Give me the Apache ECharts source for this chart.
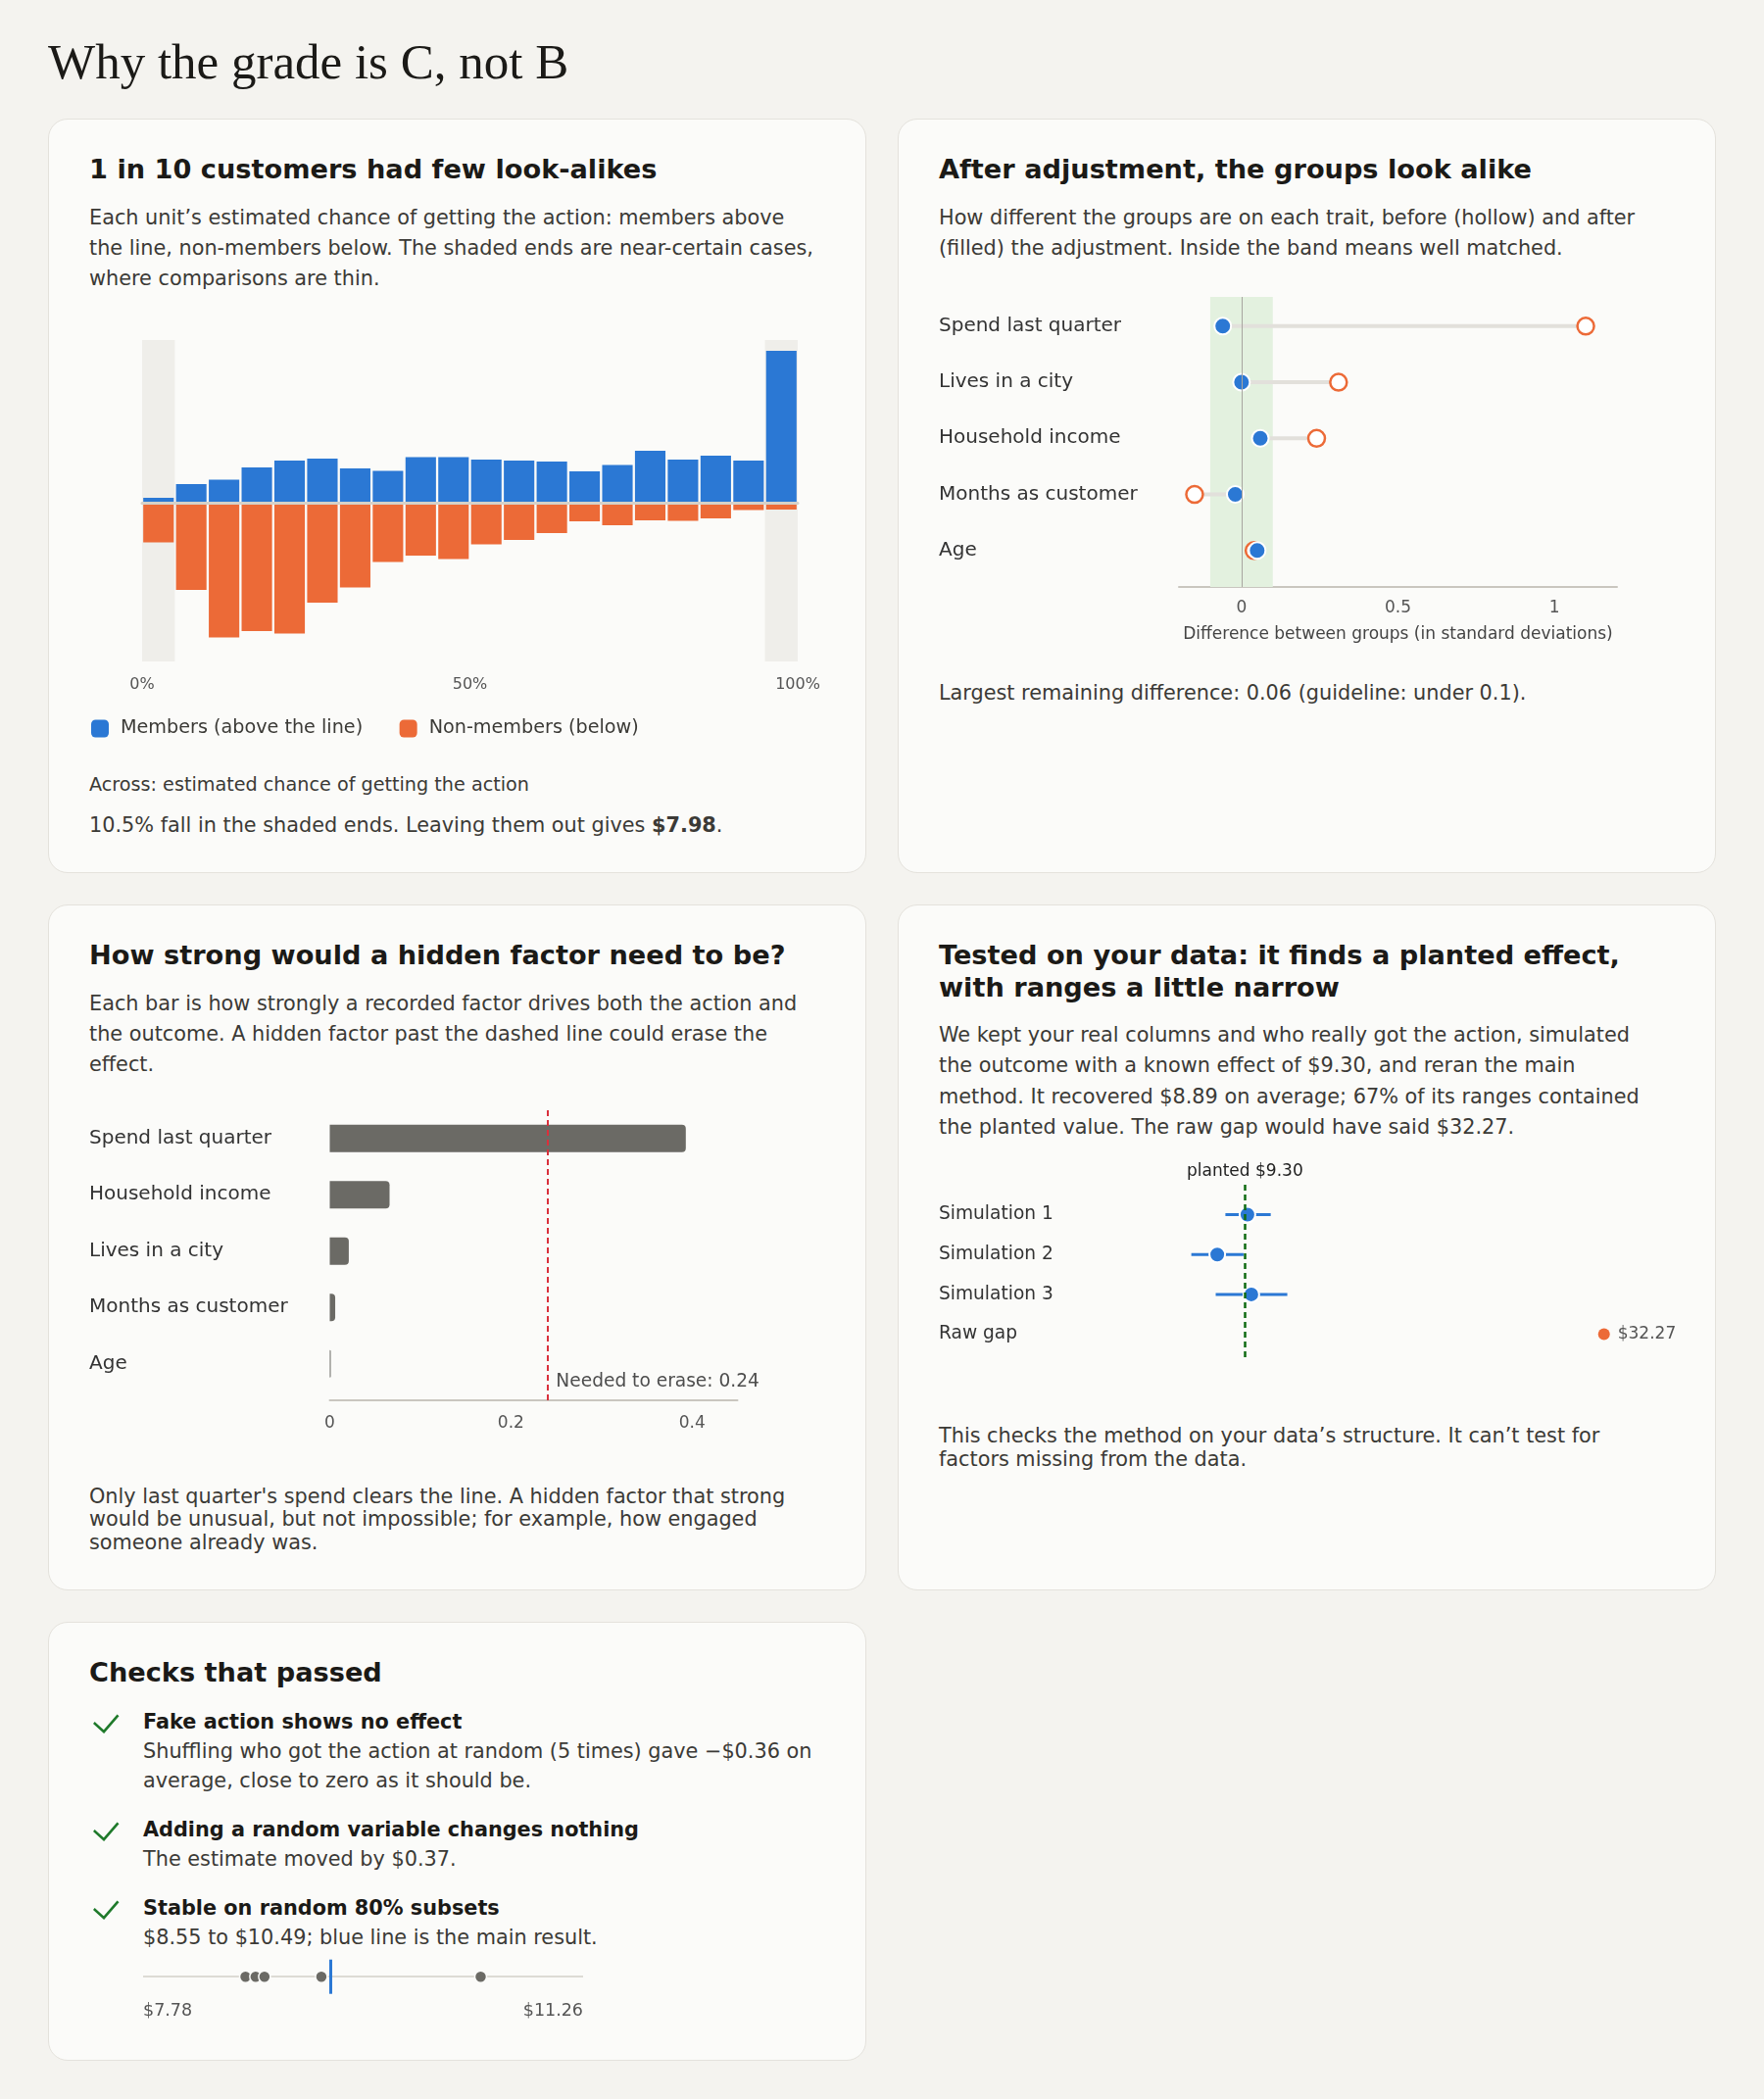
<!DOCTYPE html>
<html>
<head>
<meta charset="utf-8">
<script src="https://cdn.jsdelivr.net/npm/echarts@6/dist/echarts.min.js"></script>
<style>
html, body { margin: 0; padding: 0; background: #f4f3ef; }
body { width: 1800px; height: 2142px; position: relative; overflow: hidden; font-family: "DejaVu Sans", sans-serif; color: #3b3a36; }
h1 { position: absolute; left: 49px; top: 38px; margin: 0; font: normal 51px/51px "Liberation Serif", serif; color: #1b1a17; }
.grid { position: absolute; left: 49px; top: 121px; display: grid; grid-template-columns: 835px 835px; grid-template-rows: 770px 700px 448px; gap: 32px; }
.card { box-sizing: border-box; background: #fbfbf9; border: 1px solid #e4e2dc; border-radius: 20px; padding: 35.4px 40px 0 41px; overflow: hidden; }
.card h2 { margin: 0 0 16.6px; font: bold 27.2px/32.6px "DejaVu Sans", sans-serif; color: #1b1a17; }
.lead { margin: 0; font-size: 20.8px; line-height: 31.2px; }
.small { margin: 0; font-size: 19.2px; line-height: 28.8px; }
.foot { margin: 0; font-size: 20.8px; line-height: 23.5px; }
.chart { width: 752px; }
.check { position: relative; padding-left: 55px; margin-top: 20px; font-size: 20.8px; line-height: 30px; }
.check:first-of-type { margin-top: 18.5px; }
.check .tick { position: absolute; left: 4px; top: 7px; }
.check .ct { font-weight: bold; color: #1b1a17; }
</style>
</head>
<body>
<h1>Why the grade is C, not B</h1>
<div class="grid">
  <div class="card">
    <h2>1 in 10 customers had few look-alikes</h2>
    <p class="lead">Each unit’s estimated chance of getting the action: members above<br>the line, non-members below. The shaded ends are near-certain cases,<br>where comparisons are thin.</p>
    <div id="c1" class="chart" style="margin-top:14.8px;height:456px"></div>
    <p class="small" style="margin-top:16px">Across: estimated chance of getting the action</p>
    <p class="lead" style="margin-top:11.4px">10.5% fall in the shaded ends. Leaving them out gives <b>$7.98</b>.</p>
  </div>
  <div class="card">
    <h2>After adjustment, the groups look alike</h2>
    <p class="lead">How different the groups are on each trait, before (hollow) and after<br>(filled) the adjustment. Inside the band means well matched.</p>
    <div id="c2" class="chart" style="margin-top:12.4px;height:390px"></div>
    <p class="lead" style="margin-top:20.7px">Largest remaining difference: 0.06 (guideline: under 0.1).</p>
  </div>
  <div class="card">
    <h2>How strong would a hidden factor need to be?</h2>
    <p class="lead">Each bar is how strongly a recorded factor drives both the action and<br>the outcome. A hidden factor past the dashed line could erase the<br>effect.</p>
    <div id="c3" class="chart" style="margin-top:12.6px;height:361px"></div>
    <p class="foot" style="margin-top:39.9px">Only last quarter's spend clears the line. A hidden factor that strong<br>would be unusual, but not impossible; for example, how engaged<br>someone already was.</p>
  </div>
  <div class="card">
    <h2>Tested on your data: it finds a planted effect,<br>with ranges a little narrow</h2>
    <p class="lead">We kept your real columns and who really got the action, simulated<br>the outcome with a known effect of $9.30, and reran the main<br>method. It recovered $8.89 on average; 67% of its ranges contained<br>the planted value. The raw gap would have said $32.27.</p>
    <div id="c4" class="chart" style="margin-top:13px;height:220px"></div>
    <p class="foot" style="margin-top:55.5px">This checks the method on your data’s structure. It can’t test for<br>factors missing from the data.</p>
  </div>
  <div class="card">
    <h2>Checks that passed</h2>
    <div class="check">
      <svg class="tick" width="27" height="20" viewBox="0 0 27 20"><polyline points="0.8,9 11,18.2 25.5,1.3" fill="none" stroke="#1f7a2b" stroke-width="2.6"/></svg>
      <div class="ct">Fake action shows no effect</div>
      <div>Shuffling who got the action at random (5 times) gave −$0.36 on<br>average, close to zero as it should be.</div>
    </div>
    <div class="check">
      <svg class="tick" width="27" height="20" viewBox="0 0 27 20"><polyline points="0.8,9 11,18.2 25.5,1.3" fill="none" stroke="#1f7a2b" stroke-width="2.6"/></svg>
      <div class="ct">Adding a random variable changes nothing</div>
      <div>The estimate moved by $0.37.</div>
    </div>
    <div class="check">
      <svg class="tick" width="27" height="20" viewBox="0 0 27 20"><polyline points="0.8,9 11,18.2 25.5,1.3" fill="none" stroke="#1f7a2b" stroke-width="2.6"/></svg>
      <div class="ct">Stable on random 80% subsets</div>
      <div>$8.55 to $10.49; blue line is the main result.</div>
    </div>
    <div id="c5" style="margin-left:55px;width:470px;height:80px"></div>
  </div>
  <div></div>
</div>

<script>
const FONT = 'DejaVu Sans'
const BLUE = '#2b78d4'
const ORANGE = '#ec6a37'

// 1. overlap histogram (20 bins of estimated chance)
const binStart = [0, 5, 10, 15, 20, 25, 30, 35, 40, 45, 50, 55, 60, 65, 70, 75, 80, 85, 90, 95]
const members = [11, 39, 48, 73, 87, 91, 71, 66, 94, 94, 89, 87, 85, 65, 78, 107, 89, 97, 87, 311]
const nonMembers = [80, 177, 274, 261, 266, 203, 172, 120, 107, 114, 84, 75, 61, 37, 45, 35, 36, 31, 14, 13]
const shadedEnds = [[0, 5], [95, 100]]
const pctTicks = [0, 50, 100]

// 2. balance before / after adjustment
const traits = ['Spend last quarter', 'Lives in a city', 'Household income', 'Months as customer', 'Age']
const diffBefore = [1.10, 0.31, 0.24, -0.15, 0.04]
const diffAfter = [-0.06, 0.00, 0.06, -0.02, 0.05]
const bandLimit = 0.1
const diffTicks = [0, 0.5, 1]

// 3. sensitivity to a hidden factor
const factors = ['Spend last quarter', 'Household income', 'Lives in a city', 'Months as customer', 'Age']
const strength = [0.393, 0.066, 0.021, 0.006, 0.001]
const neededToErase = 0.24
const strengthTicks = [0, 0.2, 0.4]

// 4. planted effect simulations
const simRows = ['Simulation 1', 'Simulation 2', 'Simulation 3', 'Raw gap']
const simEstimate = [9.46, 7.53, 9.71]
const simLow = [8.05, 5.87, 7.43]
const simHigh = [10.95, 9.21, 12.01]
const rawGap = 32.27
const plantedEffect = 9.30

// 5. random 80% subsets
const subsetEstimates = [8.59, 8.67, 8.74, 9.19, 10.45]
const mainResult = 9.26
const subsetRange = [7.78, 11.26]

// row labels on an inverse value axis (row index -> name)
const rowAxis = (names, margin, fontSize) => ({
  type: 'value',
  inverse: true,
  axisLine: { show: false },
  axisTick: { show: false },
  splitLine: { show: false },
  axisLabel: {
    customValues: names.map((n, i) => i),
    formatter: v => names[v],
    align: 'left',
    margin,
    fontSize,
    color: '#333'
  }
})

const charts = []
const make = (id, option) => {
  const c = echarts.init(document.getElementById(id))
  option.grid.outerBoundsMode = 'none'
  c.setOption(Object.assign({ animation: false, textStyle: { fontFamily: FONT } }, option))
  charts.push(c)
}

make('c1', {
  grid: { left: 54, top: 32, width: 669, height: 328 },
  legend: {
    left: 2, top: 419, padding: 0,
    itemWidth: 18, itemHeight: 18, itemGap: 37.5,
    icon: 'roundRect',
    textStyle: { fontSize: 19.2, color: '#3b3a36', padding: [0, 0, 0, 7] },
    data: ['Members (above the line)', 'Non-members (below)']
  },
  xAxis: [
    {
      type: 'category', data: binStart, position: 'top', z: 5,
      axisLine: { onZero: true, lineStyle: { color: '#d5d1c9', width: 3 } },
      axisTick: { show: false }, axisLabel: { show: false }
    },
    {
      type: 'value', min: 0, max: 100, position: 'bottom',
      axisLine: { show: false, onZero: false }, axisTick: { show: false }, splitLine: { show: false },
      axisLabel: { customValues: pctTicks, formatter: v => v + '%', fontSize: 16, color: '#555', margin: 16 }
    }
  ],
  yAxis: { type: 'value', min: -323, max: 333, show: false },
  series: [
    {
      type: 'line', xAxisIndex: 1, data: [], z: 1,
      markArea: { silent: true, itemStyle: { color: '#efeeea' }, data: shadedEnds.map(([a, b]) => [{ xAxis: a }, { xAxis: b }]) }
    },
    {
      name: 'Members (above the line)', type: 'bar', data: members,
      barGap: '-100%', barCategoryGap: '7%', itemStyle: { color: BLUE }, z: 2
    },
    {
      name: 'Non-members (below)', type: 'bar', data: nonMembers.map(v => -v),
      itemStyle: { color: ORANGE }, z: 2
    }
  ]
})

make('c2', {
  grid: { left: 245, top: 22, width: 447, height: 296 },
  xAxis: {
    type: 'value', min: -0.2, max: 1.2,
    axisLine: { onZero: false, lineStyle: { color: '#c9c6bf', width: 2 } },
    axisTick: { show: false }, splitLine: { show: false },
    axisLabel: { customValues: diffTicks, fontSize: 17, color: '#555', margin: 13.3 },
    name: 'Difference between groups (in standard deviations)',
    nameLocation: 'middle', nameGap: 39.7,
    nameTextStyle: { fontSize: 17, color: '#444' }
  },
  yAxis: Object.assign(rowAxis(traits, 245, 20), { min: -0.52, max: 4.65 }),
  series: [
    {
      type: 'custom', z: 1,
      data: traits.map((t, i) => [diffBefore[i], diffAfter[i], i]),
      encode: { x: [0, 1], y: 2 },
      renderItem: (params, api) => {
        const a = api.coord([api.value(0), api.value(2)])
        const b = api.coord([api.value(1), api.value(2)])
        return { type: 'line', shape: { x1: a[0], y1: a[1], x2: b[0], y2: b[1] }, style: { stroke: '#e2e0db', lineWidth: 4 } }
      },
      markArea: { silent: true, itemStyle: { color: '#e3f1df' }, data: [[{ xAxis: -bandLimit }, { xAxis: bandLimit }]] },
      markLine: { silent: true, symbol: 'none', label: { show: false }, lineStyle: { color: '#a8a6a0', width: 1, type: 'solid' }, data: [{ xAxis: 0 }] }
    },
    {
      type: 'scatter', z: 3, symbolSize: 17,
      data: diffBefore.map((v, i) => [v, i]),
      itemStyle: { color: '#fff', borderColor: ORANGE, borderWidth: 2.5, opacity: 1 }
    },
    {
      type: 'scatter', z: 4, symbolSize: 17,
      data: diffAfter.map((v, i) => [v, i]),
      itemStyle: { color: BLUE, borderColor: '#fff', borderWidth: 2, opacity: 1 }
    }
  ]
})

make('c3', {
  grid: { left: 245.5, top: 18, width: 416, height: 296 },
  xAxis: {
    type: 'value', min: 0, max: 0.45,
    axisLine: { onZero: false, lineStyle: { color: '#c9c6bf', width: 2 } },
    axisTick: { show: false }, splitLine: { show: false },
    axisLabel: { customValues: strengthTicks, fontSize: 17, color: '#555', margin: 15.5 }
  },
  yAxis: Object.assign(rowAxis(factors, 245.5, 20), { min: -0.5, max: 4.65 }),
  series: [
    {
      type: 'custom',
      data: factors.map((f, i) => [strength[i], i]),
      encode: { x: 0, y: 1 },
      renderItem: (params, api) => {
        const s = api.coord([0, api.value(1)])
        const e = api.coord([api.value(0), api.value(1)])
        return { type: 'rect', shape: { x: s[0], y: s[1] - 14, width: Math.max(e[0] - s[0], 1), height: 28, r: [0, 4, 4, 0] }, style: { fill: '#6b6a65' } }
      },
      markLine: {
        silent: true, symbol: 'none', label: { show: false },
        lineStyle: { color: '#d9303c', width: 2, type: [6, 4] },
        data: [{ xAxis: neededToErase }]
      }
    },
    {
      type: 'scatter', symbolSize: 2, itemStyle: { color: 'rgba(0,0,0,0)' },
      data: [[neededToErase, 4.33]],
      label: { show: true, position: 'right', distance: 8, formatter: 'Needed to erase: ' + neededToErase, fontSize: 18.6, color: '#222' }
    }
  ]
})

make('c4', {
  grid: { left: 164, top: 30, width: 587, height: 177 },
  xAxis: { type: 'value', min: 0, max: 36.8, show: false },
  yAxis: Object.assign(rowAxis(simRows, 164, 18.6), { min: -0.75, max: 3.6 }),
  series: [
    {
      type: 'custom', z: 2,
      data: simEstimate.map((v, i) => [simLow[i], simHigh[i], i]),
      encode: { x: [0, 1], y: 2 },
      renderItem: (params, api) => {
        const a = api.coord([api.value(0), api.value(2)])
        const b = api.coord([api.value(1), api.value(2)])
        return { type: 'line', shape: { x1: a[0], y1: a[1], x2: b[0], y2: b[1] }, style: { stroke: BLUE, lineWidth: 3 } }
      },
      markLine: {
        silent: true, symbol: 'none',
        lineStyle: { color: '#0f6b12', width: 2.5, type: [6, 4] },
        label: { show: true, position: 'start', formatter: 'planted $' + plantedEffect.toFixed(2), fontSize: 17, color: '#222', distance: 5 },
        data: [{ xAxis: plantedEffect }]
      }
    },
    {
      type: 'scatter', z: 3, symbolSize: 16,
      data: simEstimate.map((v, i) => [v, i]),
      itemStyle: { color: BLUE, borderColor: '#fff', borderWidth: 2, opacity: 1 }
    },
    {
      type: 'scatter', z: 3, symbolSize: 12,
      data: [[rawGap, 3]],
      itemStyle: { color: ORANGE, opacity: 1 },
      label: { show: true, position: 'right', distance: 8, formatter: '$' + rawGap.toFixed(2), fontSize: 17, color: '#555' }
    }
  ]
})

make('c5', {
  grid: { left: 0, top: 7.7, width: 449, height: 35 },
  xAxis: {
    type: 'value', min: subsetRange[0], max: subsetRange[1],
    axisLine: { show: false, onZero: false },
    axisTick: { show: false }, splitLine: { show: false },
    axisLabel: {
      customValues: subsetRange, formatter: v => '$' + v.toFixed(2),
      alignMinLabel: 'left', alignMaxLabel: 'right',
      margin: 8.8, fontSize: 17.5, color: '#555'
    }
  },
  yAxis: { type: 'value', min: -1, max: 1, show: false },
  series: [{
    type: 'scatter', symbolSize: 12, z: 3,
    data: subsetEstimates.map(v => [v, 0]),
    itemStyle: { color: '#6b6a65', borderColor: '#fbfbf9', borderWidth: 1.5, opacity: 1 },
    markLine: {
      silent: true, symbol: 'none', label: { show: false }, z: 1,
      data: [
        { yAxis: 0, lineStyle: { color: '#dddbd5', width: 2, type: 'solid' } },
        { xAxis: mainResult, lineStyle: { color: BLUE, width: 3, type: 'solid' } }
      ]
    }
  }]
})

window.addEventListener('resize', () => charts.forEach(c => c.resize()))
</script>
</body>
</html>
